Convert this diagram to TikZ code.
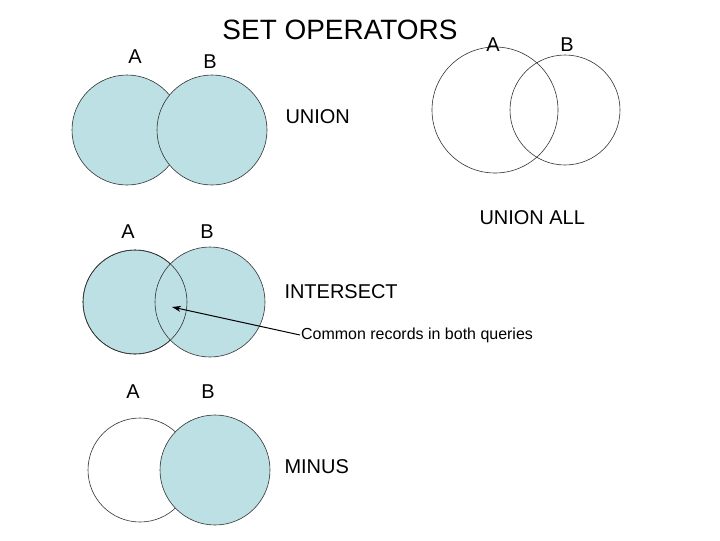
\documentclass[tikz,border=0pt]{standalone}
\usepackage{fontspec}
\setmainfont{Liberation Sans}
\usetikzlibrary{arrows.meta}
\definecolor{setfill}{HTML}{BCE0E4}
\begin{document}
\begin{tikzpicture}[x=0.0352cm, y=-0.0352cm,
    setcirc/.style={draw=black!80, line width=0.6pt},
    lbl/.style={font=\fontsize{20}{20}\selectfont},
    op/.style={font=\fontsize{20}{20}\selectfont, anchor=west}]
\useasboundingbox (0,0) rectangle (720,540);

% union
\draw[setcirc, fill=setfill] (127,130) circle (55);
\draw[setcirc, fill=setfill] (212,130) circle (55);
\node[lbl] (ua) at (135,57) {A};
\node[lbl] (ub) at (210,62) {B};
\node[font=\fontsize{28}{28}\selectfont] (title) at (340,30) {SET OPERATORS};
\node[op] (union) at (282,117) {UNION};

% union all
\draw[setcirc] (495,110) circle (63);
\draw[setcirc] (565,110) circle (55);
\node[lbl] (aa) at (493,45) {A};
\node[lbl] (ab) at (567,45) {B};
\node[op] (unionall) at (476,218) {UNION ALL};

% intersect
\draw[setcirc, fill=setfill] (135,302) circle (52);
\draw[setcirc, fill=setfill] (210,302) circle (55);
\draw[setcirc] (135,302) circle (52);
\node[lbl] (ia) at (128,232) {A};
\node[lbl] (ib) at (207,232) {B};
\node[op] (intersect) at (281,292) {INTERSECT};
\node[anchor=west, font=\fontsize{16}{16}\selectfont, inner sep=1pt] (common) at (300,335) {Common records in both queries};
\coordinate (overlap) at (172,307);
\draw[-{Stealth[length=9pt,width=6pt]}, line width=1pt] (common.west) -- (overlap);

% minus
\draw[setcirc, fill=white] (140,470) circle (52);
\draw[setcirc, fill=setfill] (215,470) circle (55);
\node[lbl] (ma) at (133,392) {A};
\node[lbl] (mb) at (208,392) {B};
\node[op] (minus) at (281,467) {MINUS};
\end{tikzpicture}
\end{document}
